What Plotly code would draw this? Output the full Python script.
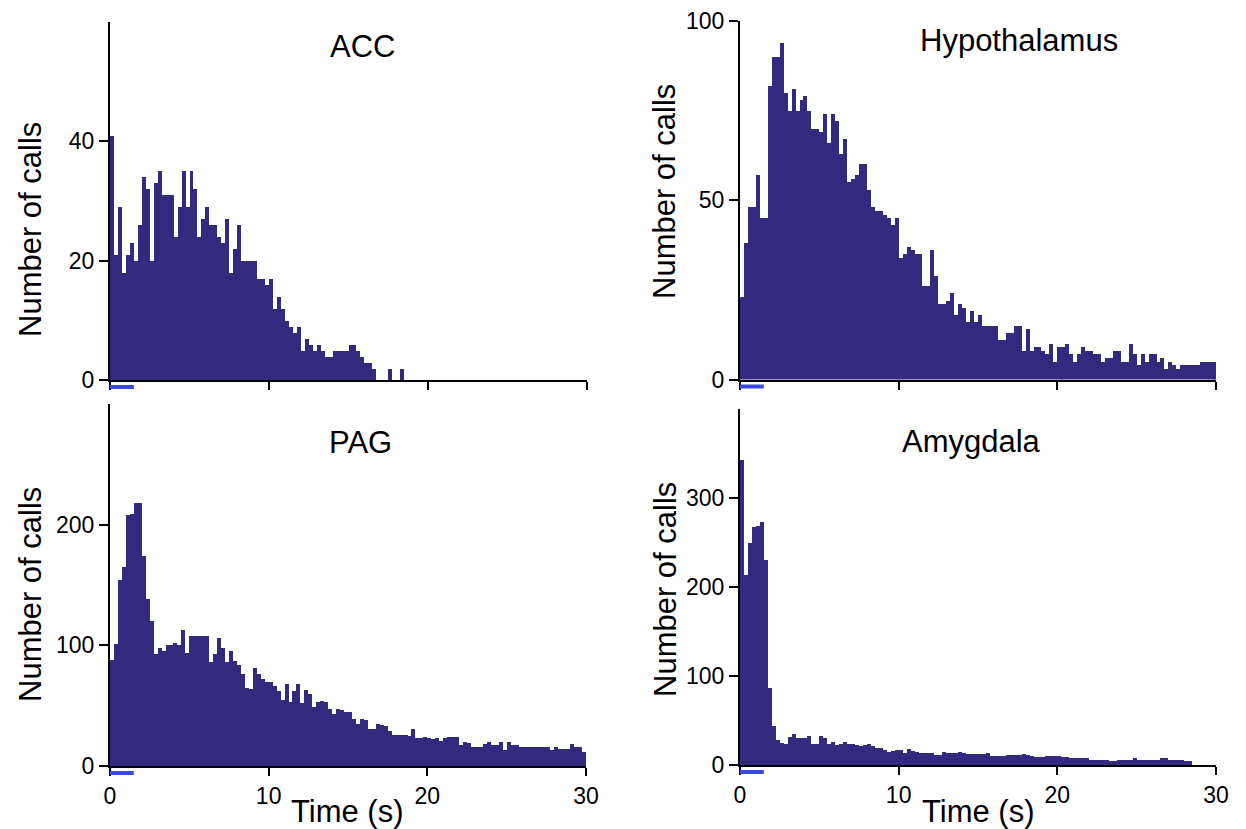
import plotly.graph_objects as go

# ---------------- data (counts per 0.25 s bin, 0-30 s) ----------------
BIN_WIDTH = 0.25
STIM = (0.0, 1.5)

ACC = [41, 21, 29, 18, 21, 23, 20, 26, 34, 32,
       20, 33, 35, 31, 31, 31, 24, 29, 35, 29,
       35, 32, 24, 27, 29, 26, 26, 24, 23, 27,
       18, 22, 26, 20, 20, 20, 20, 17, 17, 16,
       17, 12, 14, 12, 10, 9, 8, 9, 5, 7,
       6, 5, 6, 5, 4, 4, 5, 5, 5, 5,
       6, 6, 5, 4, 3, 3, 2, 0, 0, 0,
       2, 0, 0, 2, 0, 0, 0, 0, 0, 0,
       0, 0, 0, 0, 0, 0, 0, 0, 0, 0,
       0, 0, 0, 0, 0, 0, 0, 0, 0, 0,
       0, 0, 0, 0, 0, 0, 0, 0, 0, 0,
       0, 0, 0, 0, 0, 0, 0, 0, 0, 0]

HYPOTHALAMUS = [23, 38, 48, 48, 57, 45, 45, 82, 90, 90,
                94, 80, 75, 81, 75, 78, 79, 75, 70, 70,
                69, 74, 66, 74, 72, 63, 67, 55, 56, 57,
                60, 60, 53, 48, 47, 47, 46, 45, 43, 45,
                34, 35, 37, 36, 35, 35, 26, 26, 36, 29,
                21, 21, 22, 24, 18, 21, 20, 16, 19, 16,
                18, 15, 15, 15, 15, 11, 11, 13, 13, 15,
                15, 8, 14, 8, 9, 9, 8, 7, 10, 5,
                9, 9, 10, 7, 5, 7, 9, 8, 8, 7,
                7, 5, 6, 6, 8, 8, 5, 5, 10, 7,
                4, 7, 5, 7, 7, 5, 6, 3, 5, 4,
                3, 4, 4, 4, 4, 4, 5, 5, 5, 5]

PAG = [88, 101, 154, 165, 208, 209, 218, 218, 174, 138,
       120, 93, 98, 95, 100, 100, 102, 100, 113, 94,
       108, 108, 108, 108, 108, 86, 93, 106, 98, 86,
       95, 87, 84, 76, 65, 64, 81, 76, 72, 70,
       70, 66, 62, 55, 68, 53, 62, 68, 52, 63,
       60, 49, 53, 54, 53, 47, 43, 47, 46, 45,
       45, 39, 35, 39, 38, 31, 31, 35, 34, 33,
       29, 26, 26, 26, 26, 25, 31, 23, 23, 24,
       23, 22, 23, 21, 23, 24, 24, 24, 17, 20,
       19, 16, 16, 16, 18, 20, 17, 17, 20, 13,
       20, 17, 17, 16, 16, 16, 16, 16, 16, 16,
       16, 13, 16, 14, 14, 14, 18, 16, 16, 12]

AMYGDALA = [343, 213, 249, 267, 268, 273, 230, 87, 44, 28,
            25, 24, 32, 35, 30, 30, 30, 33, 24, 24,
            33, 30, 24, 26, 22, 24, 26, 24, 24, 22,
            21, 22, 24, 21, 19, 19, 17, 15, 16, 17,
            17, 13, 18, 16, 15, 14, 13, 14, 13, 11,
            11, 15, 13, 13, 13, 15, 14, 12, 12, 12,
            12, 12, 13, 10, 10, 10, 10, 11, 11, 11,
            11, 12, 11, 10, 9, 9, 9, 10, 10, 10,
            10, 9, 9, 8, 8, 8, 8, 8, 6, 6,
            6, 6, 6, 5, 5, 6, 6, 6, 6, 8,
            6, 6, 6, 6, 6, 6, 8, 8, 6, 6,
            6, 6, 5, 5, 0, 0, 0, 0, 0, 0]

TITLES = ["ACC", "Hypothalamus", "PAG", "Amygdala"]
Y_TICKS = [[0, 20, 40], [0, 50, 100], [0, 100, 200], [0, 100, 200, 300]]
Y_RANGES = [[0, 60], [0, 100], [0, 300], [0, 400]]
X_TICKS = [0, 10, 20, 30]
X_RANGE = [0, 30]

# ---------------- styling / layout ----------------
W, H = 1246, 829
BAR_COLOR = "#33297f"
STIM_COLOR = "#3a48e0"
FONT = "Liberation Sans, Arial, Helvetica, sans-serif"
TICK_SIZE = 23
TITLE_SIZE = 31
LABEL_SIZE = 31


def fx(p):
    return p / W


def fy(p):
    return 1 - p / H


# pixel boxes: (x_left, x_right, y_bottom(axis 0), y_top)
BOXES = [(110, 587, 380, 21.5),
         (740, 1216, 379.5, 21),
         (110, 586, 766, 404),
         (740, 1216, 765, 409)]
TITLE_POS = [(362, 46), (1019, 40), (360, 443), (971, 441)]
YLAB_POS = [(30, 230), (665, 192), (30, 595), (665, 590)]
XLAB_POS = [None, None, (348, 811), (978, 811)]

series = [ACC, HYPOTHALAMUS, PAG, AMYGDALA]

fig = go.Figure()
annotations = []
shapes = []

for i, data in enumerate(series):
    n = i + 1
    xa = "x" if n == 1 else f"x{n}"
    ya = "y" if n == 1 else f"y{n}"
    centers = [(k + 0.5) * BIN_WIDTH for k in range(len(data))]
    fig.add_trace(go.Bar(x=centers, y=data, width=BIN_WIDTH,
                         marker=dict(color=BAR_COLOR, line=dict(width=0)),
                         xaxis=xa, yaxis=ya, showlegend=False,
                         hoverinfo="skip"))
    xl, xr, yb, yt = BOXES[i]
    bottom_row = i >= 2
    xkey = "xaxis" if n == 1 else f"xaxis{n}"
    ykey = "yaxis" if n == 1 else f"yaxis{n}"
    fig.update_layout(**{
        xkey: dict(domain=[fx(xl), fx(xr)], anchor=ya, range=X_RANGE,
                   tickvals=X_TICKS, ticks="outside", ticklen=8, tickwidth=2,
                   tickcolor="black", showline=True, linewidth=2,
                   linecolor="black", showgrid=False, zeroline=False,
                   showticklabels=bottom_row, automargin=False,
                   tickfont=dict(family=FONT, size=TICK_SIZE, color="black")),
        ykey: dict(domain=[fy(yb), fy(yt)], anchor=xa, range=Y_RANGES[i],
                   tickvals=Y_TICKS[i], ticks="outside", ticklen=9,
                   tickwidth=2, tickcolor="black", showline=True,
                   linewidth=2, linecolor="black", showgrid=False,
                   zeroline=False, automargin=False,
                   tickfont=dict(family=FONT, size=TICK_SIZE, color="black")),
    })
    # stimulus bar below the x axis
    shapes.append(dict(type="rect", xref=xa, yref="paper",
                       x0=STIM[0], x1=STIM[1],
                       y0=fy(yb + 9), y1=fy(yb + 5),
                       fillcolor=STIM_COLOR, line=dict(width=0)))
    tx, ty = TITLE_POS[i]
    annotations.append(dict(text=TITLES[i], x=fx(tx), y=fy(ty),
                            xref="paper", yref="paper", showarrow=False,
                            xanchor="center", yanchor="middle",
                            font=dict(family=FONT, size=TITLE_SIZE,
                                      color="black")))
    lx, ly = YLAB_POS[i]
    annotations.append(dict(text="Number of calls", x=fx(lx), y=fy(ly),
                            xref="paper", yref="paper", showarrow=False,
                            textangle=-90, xanchor="center", yanchor="middle",
                            font=dict(family=FONT, size=LABEL_SIZE,
                                      color="black")))
    if XLAB_POS[i] is not None:
        bx, by = XLAB_POS[i]
        annotations.append(dict(text="Time (s)", x=fx(bx), y=fy(by),
                                xref="paper", yref="paper", showarrow=False,
                                xanchor="center", yanchor="middle",
                                font=dict(family=FONT, size=LABEL_SIZE,
                                          color="black")))

fig.update_layout(width=W, height=H,
                  margin=dict(l=0, r=0, t=0, b=0, pad=0, autoexpand=False),
                  paper_bgcolor="white", plot_bgcolor="white",
                  bargap=0, annotations=annotations, shapes=shapes,
                  font=dict(family=FONT, color="black"))

fig.write_html("out.html")
